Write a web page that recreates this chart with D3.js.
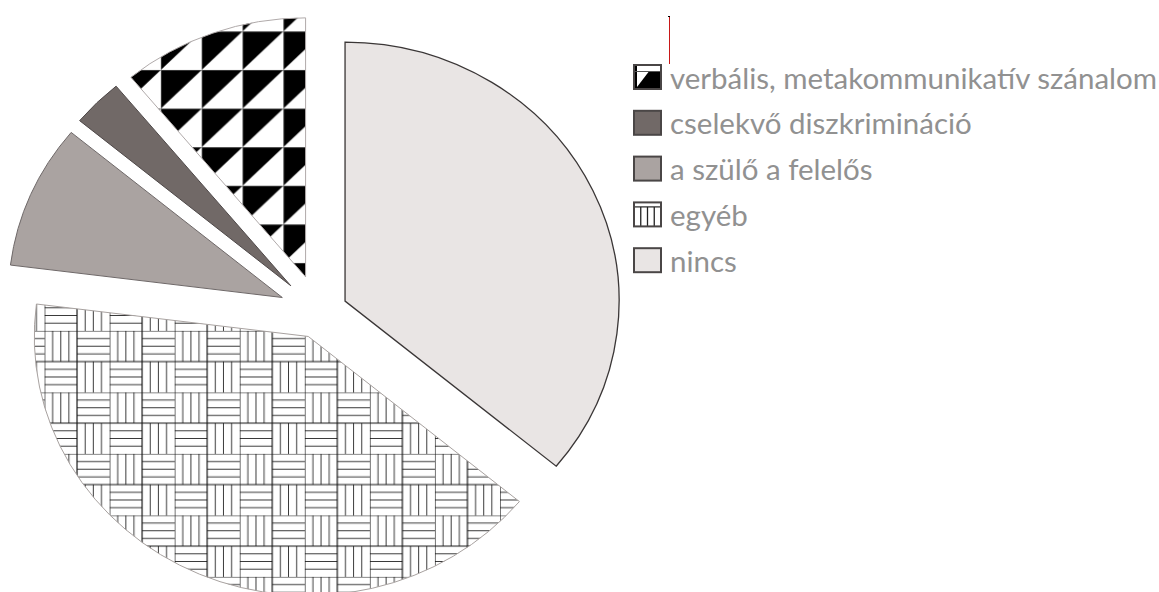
<!DOCTYPE html>
<html>
<head>
<meta charset="utf-8">
<script src="https://cdn.jsdelivr.net/npm/d3@7"></script>
<style>
  html, body { margin: 0; padding: 0; background: #fff; }
  svg { display: block; }
</style>
</head>
<body>
<svg id="chart" width="1159" height="592"></svg>
<script>
// Share of answers per category (percent), drawn clockwise from 12 o'clock
const categories = ["nincs", "egyéb", "a szülő a felelős", "cselekvő diszkrimináció", "verbális, metakommunikatív szánalom"];
const values = [36, 41, 9, 3, 11];
// Legend lists the categories in reverse drawing order
const legendOrder = [4, 3, 2, 1, 0];

// Styling per slice
const fills = ["#e9e5e4", "url(#weave)", "#aaa3a1", "#716967", "url(#triangles)"];
const strokes = ["#3a3636", "#a8a2a0", "#6e6868", "#4e4848", "#b0aaaa"];
const strokeWidths = [1.3, 1, 1, 1, 1];
const explode = [27, 26, 38, 38, 38];

const W = 1159, H = 592;
const radius = 259;
const stretchX = 1.058;
const cx = 319.2, cy = 312.6;

const svg = d3.select("#chart");
const defs = svg.append("defs");

// Basket weave: checkerboard of cells filled with three vertical or three horizontal rules
const cell = 30.75;
const weave = defs.append("pattern")
  .attr("id", "weave")
  .attr("patternUnits", "userSpaceOnUse")
  .attr("x", -3.3).attr("y", -5.6)
  .attr("width", cell * 2).attr("height", cell * 2);
weave.append("rect").attr("width", cell * 2).attr("height", cell * 2).attr("fill", "#fff");
[[0, 0, "v"], [1, 0, "h"], [0, 1, "h"], [1, 1, "v"]].forEach(([i, j, dir]) => {
  const x0 = i * cell, y0 = j * cell;
  for (let k = 1; k <= 3; k++) {
    const t = k * cell / 4;
    if (dir === "v") {
      weave.append("line").attr("x1", x0 + t).attr("x2", x0 + t).attr("y1", y0).attr("y2", y0 + cell);
    } else {
      weave.append("line").attr("x1", x0).attr("x2", x0 + cell).attr("y1", y0 + t).attr("y2", y0 + t);
    }
  }
});
weave.selectAll("line").attr("stroke", "#2a2a2a").attr("stroke-width", 0.9);
// cell borders
[0, cell].forEach(p => {
  weave.append("line").attr("x1", p).attr("x2", p).attr("y1", 0).attr("y2", cell * 2)
    .attr("stroke", "#111").attr("stroke-width", 1.1);
  weave.append("line").attr("y1", p).attr("y2", p).attr("x1", 0).attr("x2", cell * 2)
    .attr("stroke", "#111").attr("stroke-width", 1.1);
});

// Triangles: every square split on its rising diagonal, upper-left half black
const tri = 38.6;
const triangles = defs.append("pattern")
  .attr("id", "triangles")
  .attr("patternUnits", "userSpaceOnUse")
  .attr("x", -21).attr("y", -168.3)
  .attr("width", tri).attr("height", tri);
triangles.append("rect").attr("width", tri).attr("height", tri).attr("fill", "#fff");
triangles.append("path").attr("d", `M0,0H${tri}L0,${tri}Z`).attr("fill", "#000");
triangles.append("path").attr("d", `M0,0H${tri}M0,0V${tri}`)
  .attr("stroke", "#9a9a9a").attr("stroke-width", 0.7).attr("fill", "none");

// Pie
const pie = d3.pie().sort(null).startAngle(0).endAngle(2 * Math.PI);
const arc = d3.arc().innerRadius(0).outerRadius(radius);
const arcs = pie(values);

const g = svg.append("g")
  .attr("transform", `translate(${cx},${cy}) scale(${stretchX},1)`);

g.selectAll("path.slice")
  .data(arcs)
  .join("path")
  .attr("class", "slice")
  .attr("transform", (d, i) => {
    const mid = (d.startAngle + d.endAngle) / 2;
    return `translate(${Math.sin(mid) * explode[i]},${-Math.cos(mid) * explode[i]})`;
  })
  .attr("d", arc)
  .attr("fill", (d, i) => fills[i])
  .attr("stroke", (d, i) => strokes[i])
  .attr("stroke-width", (d, i) => strokeWidths[i])
  .attr("stroke-linejoin", "miter")
  .attr("vector-effect", "non-scaling-stroke");

// Thin marker line above the legend
svg.append("line")
  .attr("x1", 669.5).attr("x2", 669.5).attr("y1", 16).attr("y2", 64)
  .attr("stroke", "#c81818").attr("stroke-width", 1);
svg.append("line")
  .attr("x1", 668).attr("x2", 670).attr("y1", 16.5).attr("y2", 16.5)
  .attr("stroke", "#000").attr("stroke-width", 1);

// Legend
const legendX = 634, legendY = 65, rowStep = 45.8, sw = 27, sh = 24;
const textColor = "#919191";
const legend = svg.append("g");

legendOrder.forEach((ci, r) => {
  const y = legendY + r * rowStep;
  const row = legend.append("g").attr("transform", `translate(${legendX},${y})`);
  if (ci === 4) {
    row.append("rect").attr("width", sw).attr("height", sh).attr("fill", "#000");
    row.append("rect").attr("x", 0).attr("y", 0).attr("width", sw).attr("height", 6).attr("fill", "#fff");
    row.append("rect").attr("x", 0).attr("y", 0).attr("width", 3).attr("height", 6).attr("fill", "#000");
    row.append("path").attr("d", `M3,7H${sw / 2 + 1}L3,${sh - 2}Z`).attr("fill", "#fff");
    row.append("line").attr("x1", 0).attr("x2", sw).attr("y1", 6.5).attr("y2", 6.5)
      .attr("stroke", "#555").attr("stroke-width", 1);
  } else if (ci === 1) {
    row.append("rect").attr("width", sw).attr("height", sh).attr("fill", "#fff");
    row.append("line").attr("x1", 0).attr("x2", sw).attr("y1", 4.5).attr("y2", 4.5)
      .attr("stroke", "#222").attr("stroke-width", 1.2);
    [1, 2, 3].forEach(k => {
      row.append("line").attr("x1", k * sw / 4).attr("x2", k * sw / 4).attr("y1", 4.5).attr("y2", sh)
        .attr("stroke", "#222").attr("stroke-width", 1.3);
    });
  } else {
    row.append("rect").attr("width", sw).attr("height", sh).attr("fill", fills[ci]);
  }
  row.append("rect").attr("width", sw).attr("height", sh)
    .attr("fill", "none").attr("stroke", "#4a4646").attr("stroke-width", 2);
  row.append("text")
    .attr("class", "legend-label")
    .attr("x", 36).attr("y", 23.5)
    .attr("fill", textColor)
    .style("font-family", "Lato, 'Open Sans', sans-serif")
    .style("font-size", "30px")
    .text(categories[ci]);
});

// Fit the label size so the longest label spans its measured width
const labels = legend.selectAll("text.legend-label");
const longest = d3.max(labels.nodes(), n => n.getComputedTextLength());
const size = 30 * 487 / longest;
labels.style("font-size", size.toFixed(2) + "px");
</script>
</body>
</html>
